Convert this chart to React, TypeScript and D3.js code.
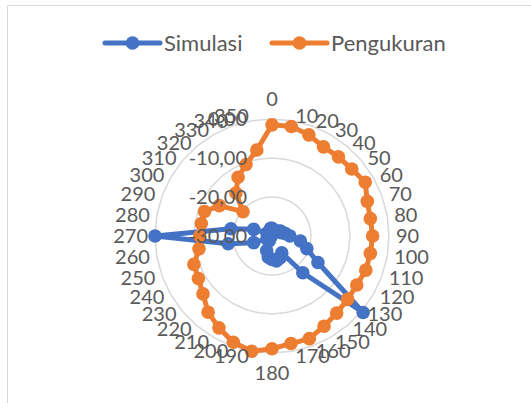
import * as React from "react";
import * as d3 from "d3";

const categories = [
	0, 10, 20, 30, 40, 50, 60, 70, 80, 90, 100, 110, 120, 130, 140, 150, 160, 170,
	180, 190, 200, 210, 220, 230, 240, 250, 260, 270, 280, 290, 300, 310, 320, 330,
	340, 350,
];

const simulasi = [
	-28, -28.5, -29, -29, -28.5, -28, -27.5, -27.5, -26.5, -25.4, -22.6, -20.5,
	-16.4, 0.5, -17.7, -25, -24, -23.5, -24, -24.5, -26, -28.5, -29.5, -29, -28.5,
	-25, -18.6, 0, -19.3, -25, -28.5, -29, -29.5, -29, -28.5, -28,
];

const pengukuran = [
	-1.5, -1.5, -2.4, -3.6, -3.5, -3.3, -2.4, -4.0, -4.4, -4.2, -4.4, -4.4, -4.9,
	-4.7, -4.2, -3.3, -2.0, -2.0, -1.1, 0, -1.0, -2.8, -4.5, -6.9, -8.2, -8.7,
	-11.0, -11.5, -11.6, -11.6, -14.4, -20.3, -15.6, -12.6, -10.5, -7.6,
];

const radialTicks = [-30, -20, -10, 0];

const seriesNames = ["Simulasi", "Pengukuran"];
const colors = ["#4472C4", "#ED7D31"];
const textColor = "#595959";
const gridColor = "#D9D9D9";
const fontFamily = "Lato, 'Open Sans', sans-serif";

const locale = d3.formatLocale({
	decimal: ",",
	thousands: ".",
	grouping: [3],
	currency: ["", ""],
	minus: "-",
});
const fmt = locale.format(".2f");

function App() {
	const width = 531;
	const height = 403;
	const cx = 272;
	const cy = 236;
	const radius = 117;

	const angle = d3.scaleLinear().domain([0, 360]).range([0, 2 * Math.PI]);
	const r = d3.scaleLinear().domain([-30, 0]).range([0, radius]);

	const line = d3
		.lineRadial<number>()
		.angle((_, i) => angle(categories[i]))
		.radius((d) => r(Math.max(-30, d)))
		.curve(d3.curveLinearClosed);

	const grid = d3
		.lineRadial<number>()
		.angle((d) => angle(d))
		.curve(d3.curveLinearClosed);

	const series = [simulasi, pengukuran];

	const pt = (deg: number, rad: number) => {
		const a = angle(deg);
		return [rad * Math.sin(a), -rad * Math.cos(a)];
	};

	const labelR = radius + 5;

	return (
		<svg
			width={width}
			height={height}
			style={{ position: "absolute", left: 0, top: 0, background: "white" }}
			fontFamily={fontFamily}
		>
			<rect
				x={7.5}
				y={5.5}
				width={600}
				height={500}
				fill="white"
				stroke={gridColor}
			/>
			{/* legend */}
			<g transform="translate(0 43)">
				{seriesNames.map((name, i) => {
					const x0 = i === 0 ? 105 : 272;
					return (
						<g key={name}>
							<line
								x1={x0}
								x2={x0 + 55}
								stroke={colors[i]}
								strokeWidth={5}
								strokeLinecap="round"
							/>
							<circle cx={x0 + 27.5} r={6.8} fill={colors[i]} />
							<text
								x={x0 + 59}
								dy="0.35em"
								fontSize={22}
								fill={textColor}
							>
								{name}
							</text>
						</g>
					);
				})}
			</g>
			<g transform={`translate(${cx} ${cy})`}>
				{radialTicks
					.filter((t) => t > -30)
					.map((t) => (
						<path
							key={t}
							d={grid.radius(r(t))(categories) || ""}
							fill="none"
							stroke={gridColor}
							strokeWidth={1.5}
						/>
					))}
				{series.map((values, s) => (
					<g key={seriesNames[s]}>
						<path
							d={line(values) || ""}
							fill="none"
							stroke={colors[s]}
							strokeWidth={5}
							strokeLinejoin="round"
						/>
						{values.map((v, i) => {
							const [x, y] = pt(categories[i], r(Math.max(-30, v)));
							return (
								<circle key={i} cx={x} cy={y} r={6.8} fill={colors[s]} />
							);
						})}
					</g>
				))}
				{/* value axis labels */}
				{radialTicks.map((t) => (
					<text
						key={t}
						x={-25}
						y={-r(t)}
						dy="0.35em"
						textAnchor="end"
						fontSize={20}
						fill={textColor}
					>
						{fmt(t)}
					</text>
				))}
				{/* category labels */}
				{categories.map((c) => {
					const [x, y] = pt(c, labelR);
					let anchor = "start";
					let tx = x + 2;
					let ty = y;
					if (c === 0) {
						anchor = "middle";
						tx = 0;
						ty = y - 15;
					} else if (c === 180) {
						anchor = "middle";
						tx = 0;
						ty = y + 15;
					} else if (c > 180) {
						anchor = "end";
						tx = x - 2;
					}
					return (
						<text
							key={c}
							x={tx}
							y={ty}
							dy="0.35em"
							textAnchor={anchor}
							fontSize={20}
							fill={textColor}
						>
							{c}
						</text>
					);
				})}
			</g>
		</svg>
	);
}

export default App;
